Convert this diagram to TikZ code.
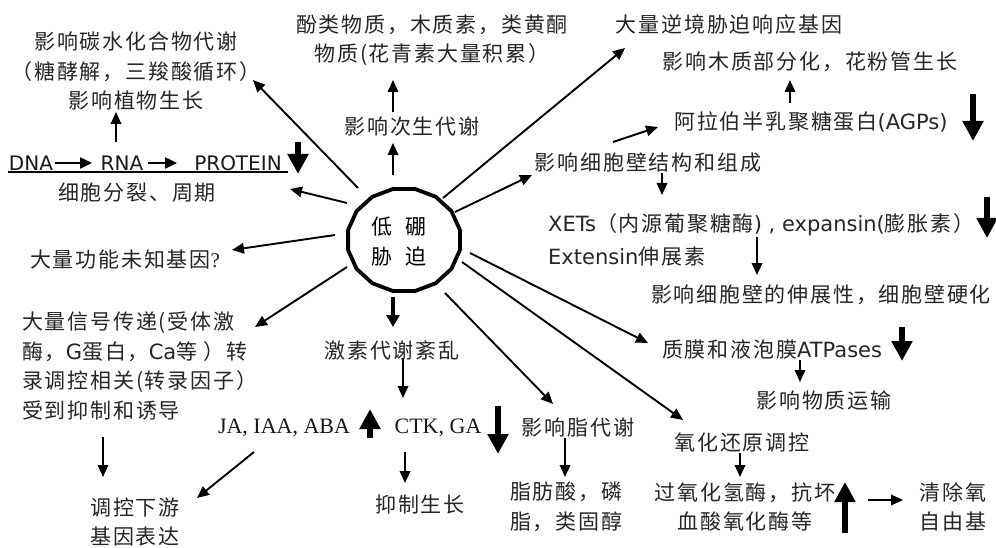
\documentclass[tikz,border=0pt]{standalone}
\usepackage{fontspec}
\setmainfont{DejaVu Sans}
\newfontfamily\cjk[LetterSpace=8.5]{Noto Sans CJK SC}
\newfontfamily\cjkc{Noto Sans CJK SC}
\newfontfamily\tms{Liberation Serif}
\usetikzlibrary{arrows.meta}
\newcommand\en[1]{{\normalfont #1}}
\begin{document}
\begin{tikzpicture}[x=1pt,y=-1pt,
  txt/.style={inner sep=0pt, font=\cjk\fontsize{21}{29.5}\selectfont, text=black!85},
  lat/.style={inner sep=0pt, font=\fontsize{20}{24}\selectfont, text=black!90},
  tim/.style={inner sep=0pt, font=\tms\fontsize{22}{26}\selectfont, text=black!90},
  arr/.style={line width=1.9pt, -{Triangle[length=12pt,width=10.5pt]}},
  marr/.style={line width=2.4pt, -{Triangle[length=12pt,width=11pt]}},
  carr/.style={line width=3.5pt, -{Triangle[length=12pt,width=13pt]}},
  barr/.style={line width=6.5pt, -{Triangle[length=20pt,width=20pt]}}]
\useasboundingbox (0,0) rectangle (996,548);
\fill[white] (0,0) rectangle (996,548);

% central polygon
\node[inner sep=0pt, minimum width=115pt, minimum height=104pt] (c) at (404,240) {};
\draw[line width=3.8pt, line join=round] ({404+57*cos(11.25)},{240-52*sin(11.25)})
  \foreach \k in {1,...,15}{ -- ({404+57*cos(11.25+22.5*\k)},{240-52*sin(11.25+22.5*\k)}) } -- cycle;
\node[inner sep=0pt, font=\cjkc\fontsize{21}{30}\selectfont, align=center] (ctext) at (399,242) {低\hspace{14pt}硼\\胁\hspace{14pt}迫};

% texts
\node[txt, align=center] (carb) at (136,71) {影响碳水化合物代谢\\（糖酵解，三羧酸循环）\\影响植物生长};
\node[lat] (dna) at (31,163) {DNA};
\node[lat] (rna) at (122,163) {RNA};
\node[lat] (prot) at (238,163) {PROTEIN};
\node[txt] (cell) at (137,193) {细胞分裂、周期};
\node[txt, align=center] (phen) at (432,40) {酚类物质，木质素，类黄酮\\物质(花青素大量积累）};
\node[txt] (sec) at (412,127) {影响次生代谢};
\node[txt] (stress) at (729,25) {大量逆境胁迫响应基因};
\node[txt] (xylem) at (810,62) {影响木质部分化，花粉管生长};
\node[txt] (agp) at (811,122) {阿拉伯半乳聚糖蛋白\en{(AGPs)}};
\node[txt] (wall) at (648,163) {影响细胞壁结构和组成};
\node[txt, anchor=west] (xet) at (548,225) {\en{XETs}（内源葡聚糖酶\en{) , expansin(}膨胀素）};
\node[txt, anchor=west] (ext) at (548,257) {\en{Extensin}伸展素};
\node[txt] (ext2) at (821,295) {影响细胞壁的伸展性，细胞壁硬化};
\node[txt, anchor=west] (atp) at (662,350) {质膜和液泡膜\en{ATPases}};
\node[txt] (trans) at (824,401) {影响物质运输};
\node[txt] (redox) at (742,443) {氧化还原调控};
\node[txt, align=center] (cat) at (745,507) {过氧化氢酶，抗坏\\血酸氧化酶等};
\node[txt, align=center] (ros) at (953,507) {清除氧\\自由基};
\node[txt] (lipid) at (578,428) {影响脂代谢};
\node[txt, align=left, anchor=west] (fat) at (510,507) {脂肪酸，磷\\脂，类固醇};
\node[txt] (horm) at (392,350) {激素代谢紊乱};
\node[tim] (ja) at (284,428) {JA, IAA, ABA};
\node[tim] (ctk) at (438,428) {CTK, GA};
\node[txt] (inhib) at (420,505) {抑制生长};
\node[txt, align=center] (down) at (135,522) {调控下游\\基因表达};
\node[txt, anchor=west] (unk) at (30,260) {大量功能未知基因{\tms ?}};
\node[txt, align=left, anchor=west] (sig) at (22,366) {大量信号传递(受体激\\酶，\en{G}蛋白，\en{Ca}等 ）转\\录调控相关(转录因子）\\受到抑制和诱导};

\coordinate (ul) at (8,172); \coordinate (ur) at (288,172);
\draw[line width=1.3pt] (ul) -- (ur);

% coordinates
\coordinate (a1s) at (116,142); \coordinate (a1e) at (116,112);
\coordinate (a2s) at (55,163);  \coordinate (a2e) at (92,163);
\coordinate (a3s) at (148,163); \coordinate (a3e) at (177,163);
\coordinate (a4s) at (298,142); \coordinate (a4e) at (298,174);
\coordinate (a5s) at (347,203); \coordinate (a5e) at (290,189);
\coordinate (a6s) at (358,188); \coordinate (a6e) at (253,80);
\coordinate (a7s) at (393,175); \coordinate (a7e) at (393,143);
\coordinate (a8s) at (393,112); \coordinate (a8e) at (393,80);
\coordinate (a9s) at (443,198); \coordinate (a9e) at (625,48);
\coordinate (a10s) at (790,103); \coordinate (a10e) at (790,80);
\coordinate (a11s) at (973,94); \coordinate (a11e) at (973,141);
\coordinate (a12s) at (613,142); \coordinate (a12e) at (658,127);
\coordinate (a13s) at (455,212); \coordinate (a13e) at (532,175);
\coordinate (a14s) at (662,173); \coordinate (a14e) at (662,195);
\coordinate (a15s) at (987,197); \coordinate (a15e) at (987,238);
\coordinate (a16s) at (757,237); \coordinate (a16e) at (757,275);
\coordinate (a17s) at (470,253); \coordinate (a17e) at (648,343);
\coordinate (a18s) at (902,327); \coordinate (a18e) at (902,361);
\coordinate (a19s) at (800,360); \coordinate (a19e) at (800,382);
\coordinate (a20s) at (462,262); \coordinate (a20e) at (683,420);
\coordinate (a21s) at (740,453); \coordinate (a21e) at (740,477);
\coordinate (a22s) at (845,533); \coordinate (a22e) at (845,482);
\coordinate (a23s) at (868,500); \coordinate (a23e) at (903,500);
\coordinate (a24s) at (445,293); \coordinate (a24e) at (553,404);
\coordinate (a25s) at (565,438); \coordinate (a25e) at (565,477);
\coordinate (a26s) at (393,297); \coordinate (a26e) at (393,327);
\coordinate (a27s) at (403,358); \coordinate (a27e) at (403,398);
\coordinate (a28s) at (370,438); \coordinate (a28e) at (370,409);
\coordinate (a29s) at (498,406); \coordinate (a29e) at (498,454);
\coordinate (a30s) at (405,452); \coordinate (a30e) at (405,483);
\coordinate (a31s) at (254,452); \coordinate (a31e) at (197,498);
\coordinate (a32s) at (335,235); \coordinate (a32e) at (232,250);
\coordinate (a33s) at (347,267); \coordinate (a33e) at (255,327);
\coordinate (a34s) at (103,437); \coordinate (a34e) at (103,477);

% arrows
\foreach \i in {1,5,6,7,8,9,10,12,13,14,16,17,19,20,21,23,24,25,27,30,31,32,33,34}
  \draw[arr] (a\i s) -- (a\i e);
\draw[marr] (a2s) -- (a2e);
\draw[marr] (a3s) -- (a3e);
\draw[carr] (a26s) -- (a26e);
\foreach \i in {4,11,15,18,22,28,29}
  \draw[barr] (a\i s) -- (a\i e);
\end{tikzpicture}
\end{document}
